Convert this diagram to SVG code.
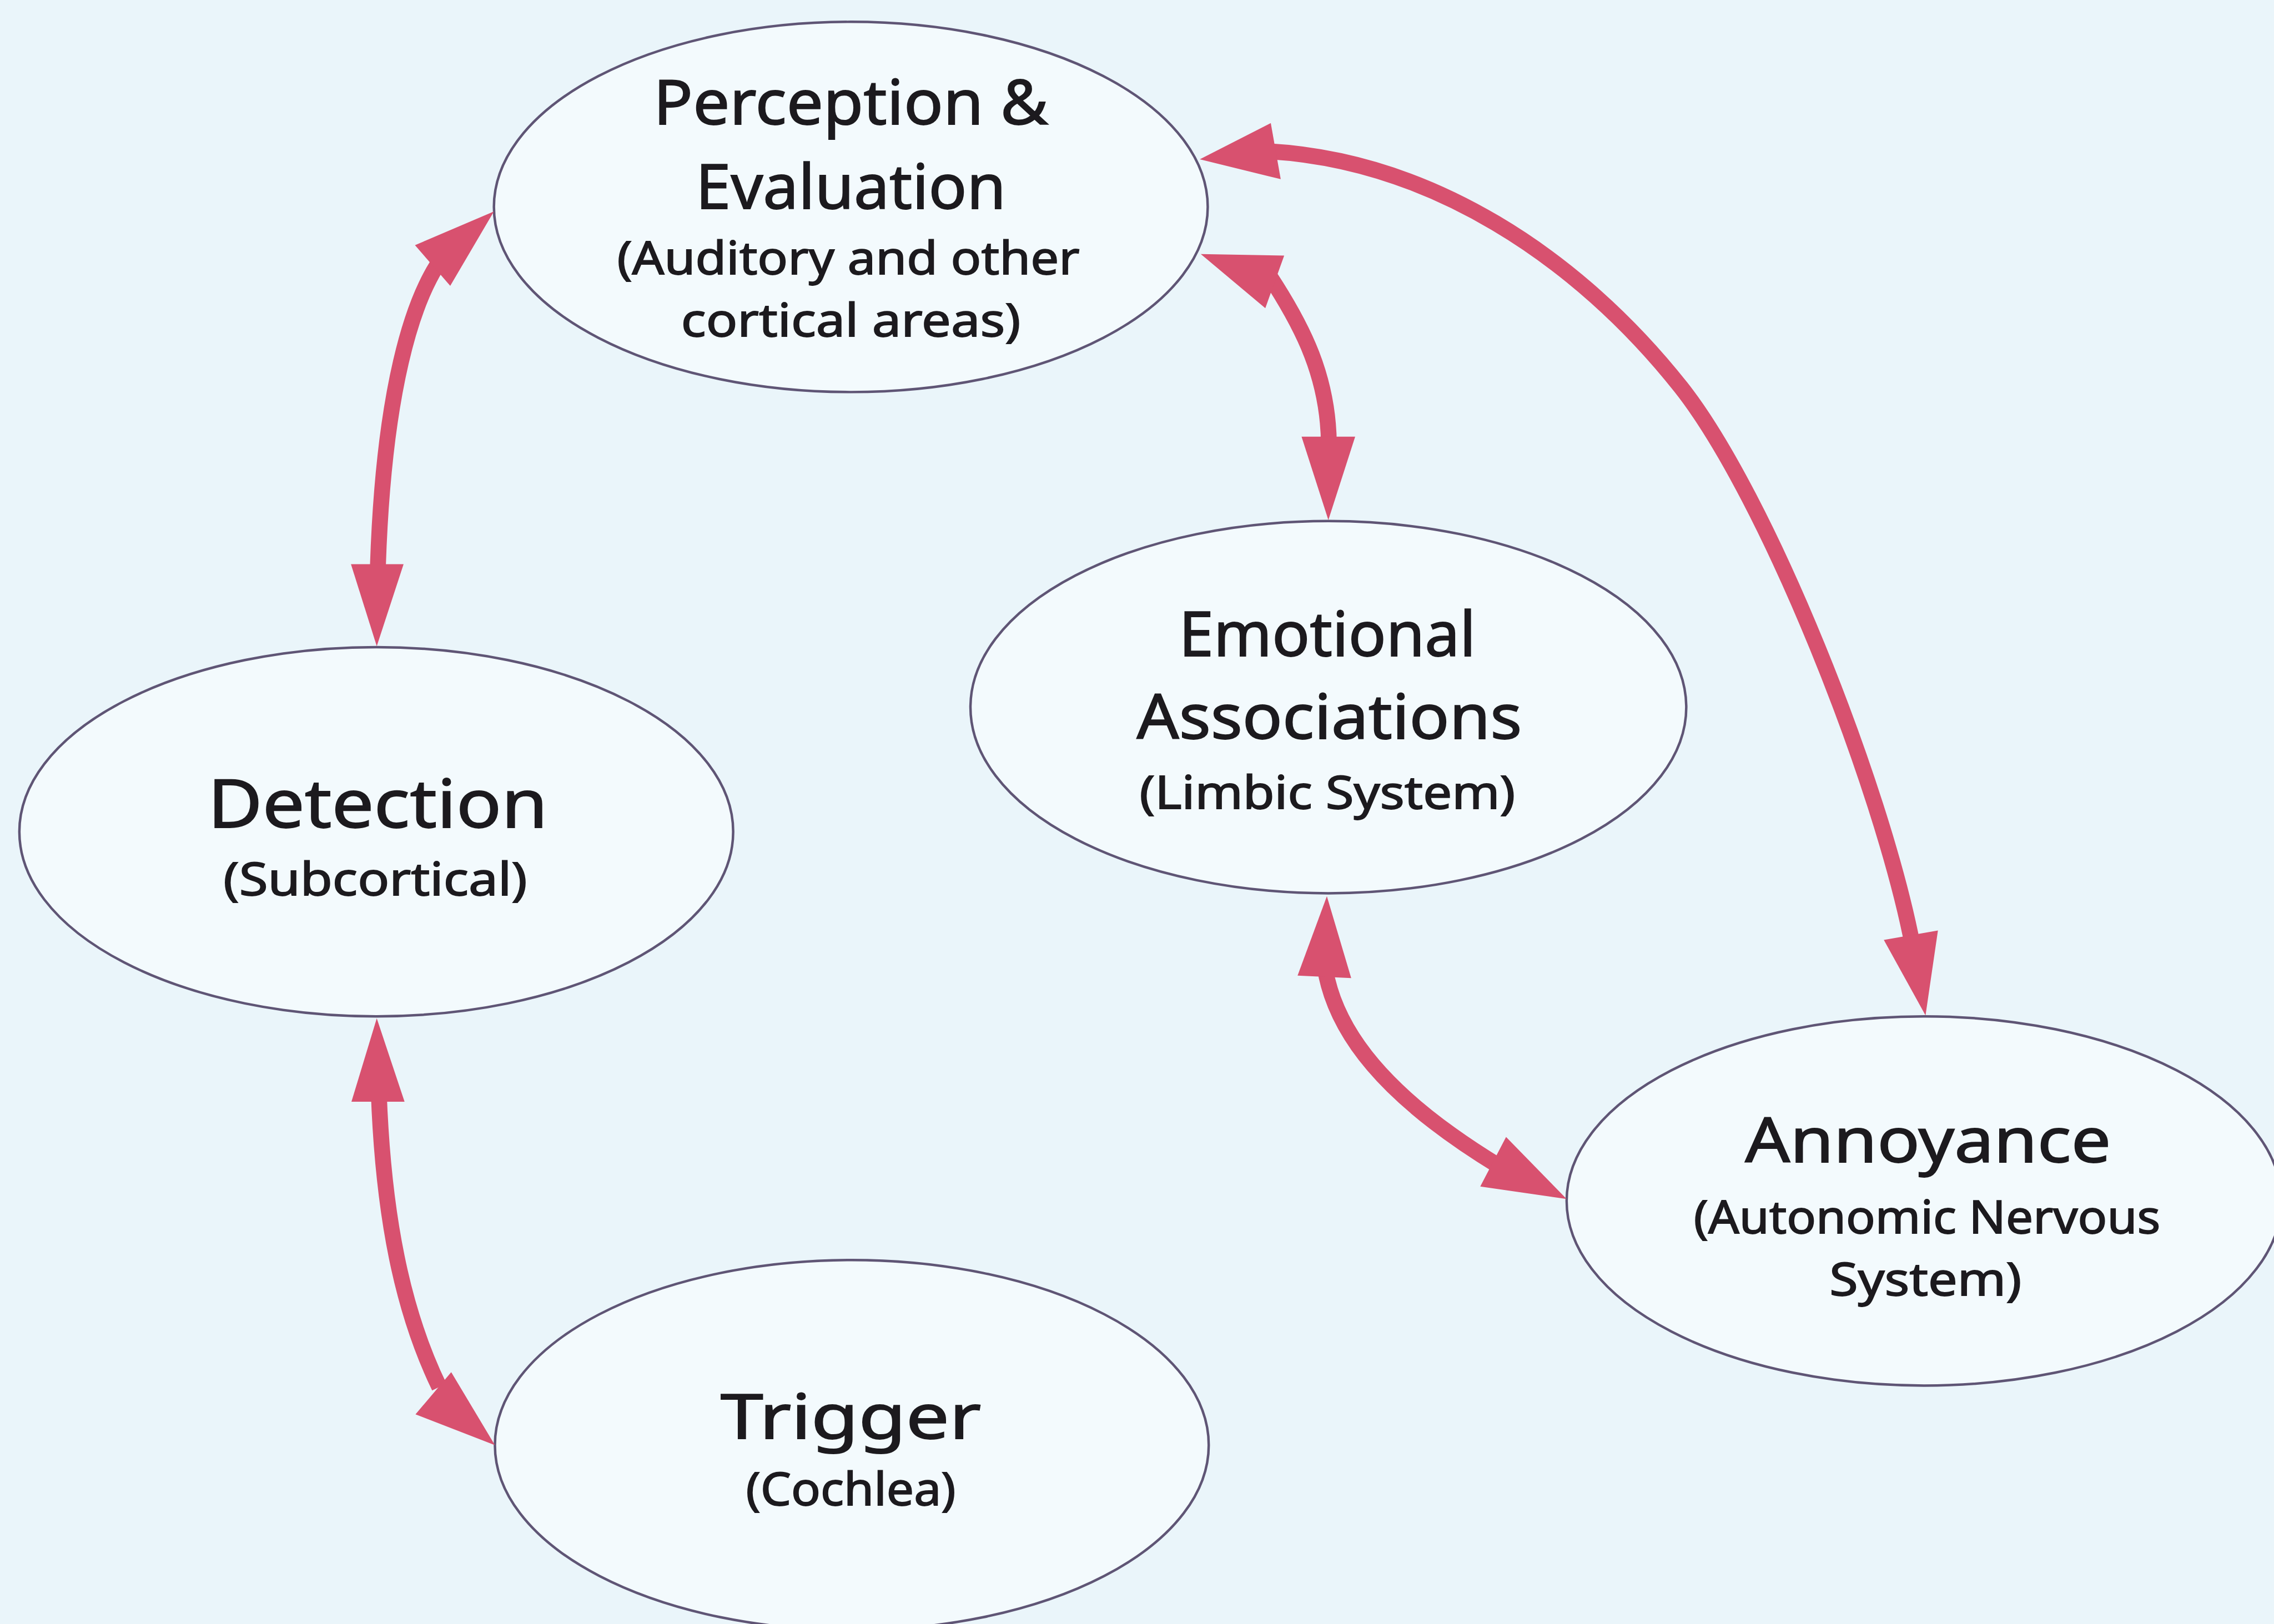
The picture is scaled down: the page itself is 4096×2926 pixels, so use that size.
<svg xmlns="http://www.w3.org/2000/svg" width="4096" height="2926" viewBox="0 0 4096 2926">
<style>
.node ellipse{fill:#F3FAFD;stroke:#5F5575;stroke-width:5}
.t{font-family:"Noto Sans","DejaVu Sans",sans-serif;fill:#1C1A1E;stroke:#1C1A1E;stroke-width:2;text-anchor:middle}
.big{font-size:124px}
.sub{font-size:92px}
.link path{fill:none;stroke:#D8516F;stroke-width:32}
.link polygon{fill:#D8516F;stroke:none}
</style>
<rect x="0" y="0" width="4096" height="2926" fill="#EAF5FA"/>
<g transform="scale(0.894128)">
  <g id="node-perception" class="node">
    <ellipse cx="1714" cy="417" rx="719" ry="373"/>
    <text class="t big" x="1714" y="250" textLength="795" lengthAdjust="spacingAndGlyphs">Perception &amp;</text>
    <text class="t big" x="1714" y="420" textLength="625" lengthAdjust="spacingAndGlyphs">Evaluation</text>
    <text class="t sub" x="1709" y="552" textLength="932" lengthAdjust="spacingAndGlyphs">(Auditory and other</text>
    <text class="t sub" x="1714" y="678" textLength="684" lengthAdjust="spacingAndGlyphs">cortical areas)</text>
  </g>
  <g id="node-detection" class="node">
    <ellipse cx="758" cy="1676" rx="719" ry="372"/>
    <text class="t big" x="761" y="1668" style="font-size:134px" textLength="685" lengthAdjust="spacingAndGlyphs">Detection</text>
    <text class="t sub" x="756" y="1804" textLength="612" lengthAdjust="spacingAndGlyphs">(Subcortical)</text>
  </g>
  <g id="node-emotional" class="node">
    <ellipse cx="2676" cy="1425" rx="721" ry="375"/>
    <text class="t big" x="2674" y="1322" textLength="598" lengthAdjust="spacingAndGlyphs">Emotional</text>
    <text class="t big" x="2678" y="1489" textLength="776" lengthAdjust="spacingAndGlyphs">Associations</text>
    <text class="t sub" x="2674" y="1630" textLength="757" lengthAdjust="spacingAndGlyphs">(Limbic System)</text>
  </g>
  <g id="node-annoyance" class="node">
    <ellipse cx="3876" cy="2420" rx="720" ry="372"/>
    <text class="t big" x="3884" y="2342" textLength="737" lengthAdjust="spacingAndGlyphs">Annoyance</text>
    <text class="t sub" x="3882" y="2485" textLength="940" lengthAdjust="spacingAndGlyphs">(Autonomic Nervous</text>
    <text class="t sub" x="3879" y="2610" textLength="387" lengthAdjust="spacingAndGlyphs">System)</text>
  </g>
  <g id="node-trigger" class="node">
    <ellipse cx="1716" cy="2912" rx="719" ry="373"/>
    <text class="t big" x="1714" y="2899" textLength="525" lengthAdjust="spacingAndGlyphs">Trigger</text>
    <text class="t sub" x="1714" y="3033" textLength="423" lengthAdjust="spacingAndGlyphs">(Cochlea)</text>
  </g>
  <g id="connectors" class="link">
    <g id="link-perception-detection">
      <path d="M 894 515 C 830 600, 772 790, 761 1150"/>
      <polygon points="995,426 907,576 836,494"/>
      <polygon points="759,1302 707,1137 813,1137"/>
    </g>
    <g id="link-perception-emotional">
      <path d="M 2560 560 C 2625 660, 2676 760, 2677 895"/>
      <polygon points="2419,512 2587,515 2549,621"/>
      <polygon points="2676,1048 2622,880 2730,880"/>
    </g>
    <g id="link-perception-annoyance">
      <path d="M 2540 304 C 2880 318, 3180 520, 3386 780 C 3560 1000, 3790 1580, 3853 1905"/>
      <polygon points="2417,321 2560,248 2580,361"/>
      <polygon points="3879,2046 3795,1894 3904,1875"/>
    </g>
    <g id="link-emotional-annoyance">
      <path d="M 2669 1950 C 2690 2080, 2790 2210, 3020 2350"/>
      <polygon points="2673,1806 2614,1966 2722,1971"/>
      <polygon points="3156,2416 3034,2291 2982,2391"/>
    </g>
    <g id="link-detection-trigger">
      <path d="M 763 2200 C 772 2450, 810 2640, 885 2795"/>
      <polygon points="759,2052 708,2220 815,2220"/>
      <polygon points="997,2912 909,2765 837,2850"/>
    </g>
  </g>
</g>
</svg>
